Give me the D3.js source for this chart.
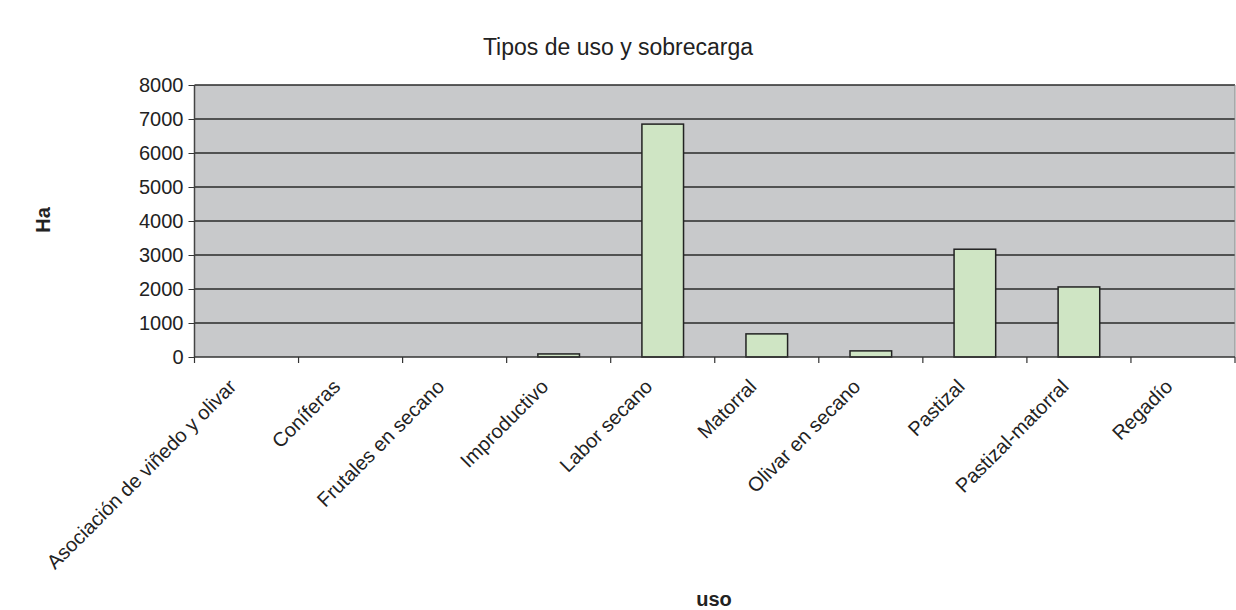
<!DOCTYPE html>
<html>
<head>
<meta charset="utf-8">
<script src="https://cdn.jsdelivr.net/npm/d3@7"></script>
<style>
  body { margin: 0; background: #fff; }
  text { font-family: "Liberation Sans", Arial, sans-serif; fill: #222; }
</style>
</head>
<body>
<div id="chart"></div>
<script>
var categories = ["Asociación de viñedo y olivar", "Coníferas", "Frutales en secano", "Improductivo",
  "Labor secano", "Matorral", "Olivar en secano", "Pastizal", "Pastizal-matorral", "Regadío"];
var values = [0, 0, 0, 90, 6850, 680, 180, 3170, 2060, 0];
var yTicks = [0, 1000, 2000, 3000, 4000, 5000, 6000, 7000, 8000];

var W = 1236, H = 610;
var margin = { top: 85, right: 1, bottom: 253, left: 194.5 },
  width = W - margin.left - margin.right,
  height = H - margin.top - margin.bottom;

var svg = d3.select("#chart").append("svg")
  .attr("width", W).attr("height", H);

var g = svg.append("g")
  .attr("transform", "translate(" + margin.left + "," + margin.top + ")");

var xScale = d3.scaleBand().domain(categories).range([0, width])
  .paddingInner(0.6).paddingOuter(0.3);
var yScale = d3.scaleLinear().domain([0, 8000]).range([height, 0]);

// plot background
g.append("rect")
  .attr("width", width).attr("height", height)
  .style("fill", "#c8c9cb");

// gridlines
g.append("g")
  .selectAll("line")
  .data(yTicks.slice(1))
  .enter().append("line")
  .attr("x1", 0).attr("x2", width)
  .attr("y1", function(d) { return yScale(d); })
  .attr("y2", function(d) { return yScale(d); })
  .style("stroke", "#2a2a2a").style("stroke-width", 1.5);

// bars
g.selectAll(".bar")
  .data(values)
  .enter().append("rect")
  .attr("class", "bar")
  .attr("x", function(d, i) { return xScale(categories[i]); })
  .attr("width", xScale.bandwidth())
  .attr("y", function(d) { return yScale(d); })
  .attr("height", function(d) { return height - yScale(d); })
  .style("fill", "#cfe5c4")
  .style("stroke", "#222")
  .style("stroke-width", 1.5);

// frame left / right
g.append("line").attr("x1", 0).attr("x2", 0).attr("y1", 0).attr("y2", height)
  .style("stroke", "#444").style("stroke-width", 1.5);
g.append("line").attr("x1", width).attr("x2", width).attr("y1", 0).attr("y2", height)
  .style("stroke", "#888").style("stroke-width", 1);

// y axis
var yAxis = g.append("g")
  .call(d3.axisLeft(yScale).tickValues(yTicks).tickFormat(d3.format("d"))
    .tickSize(6).tickPadding(5).tickSizeOuter(0));
yAxis.select(".domain").remove();
yAxis.selectAll("line").style("stroke", "#333");
yAxis.selectAll("text")
  .attr("fill", "#222")
  .attr("font-size", 20)
  .attr("font-family", "Liberation Sans, Arial, sans-serif");

// x axis: ticks on category boundaries
var step = width / categories.length;
var bounds = d3.range(categories.length + 1);
g.append("line").attr("x1", 0).attr("x2", width).attr("y1", height).attr("y2", height)
  .style("stroke", "#333").style("stroke-width", 1.5);
g.append("g").selectAll("line")
  .data(bounds)
  .enter().append("line")
  .attr("x1", function(d) { return d * step; })
  .attr("x2", function(d) { return d * step; })
  .attr("y1", height).attr("y2", height + 6)
  .style("stroke", "#333").style("stroke-width", 1.2);

g.append("g").selectAll("text")
  .data(categories)
  .enter().append("text")
  .attr("transform", function(d) {
    var cx = xScale(d) + xScale.bandwidth() / 2 - 19;
    return "translate(" + cx + "," + (height + 21) + ") rotate(-45)";
  })
  .attr("dy", "0.7em")
  .style("text-anchor", "end")
  .style("font-size", "20px")
  .text(function(d) { return d; });

// titles
svg.append("text")
  .attr("x", 618).attr("y", 55)
  .style("text-anchor", "middle")
  .style("font-size", "23px")
  .text("Tipos de uso y sobrecarga");

svg.append("text")
  .attr("transform", "translate(50,220) rotate(-90)")
  .style("text-anchor", "middle")
  .style("font-size", "20px")
  .style("font-weight", "bold")
  .text("Ha");

svg.append("text")
  .attr("x", 714).attr("y", 606)
  .style("text-anchor", "middle")
  .style("font-size", "20px")
  .style("font-weight", "bold")
  .text("uso");
</script>
</body>
</html>
